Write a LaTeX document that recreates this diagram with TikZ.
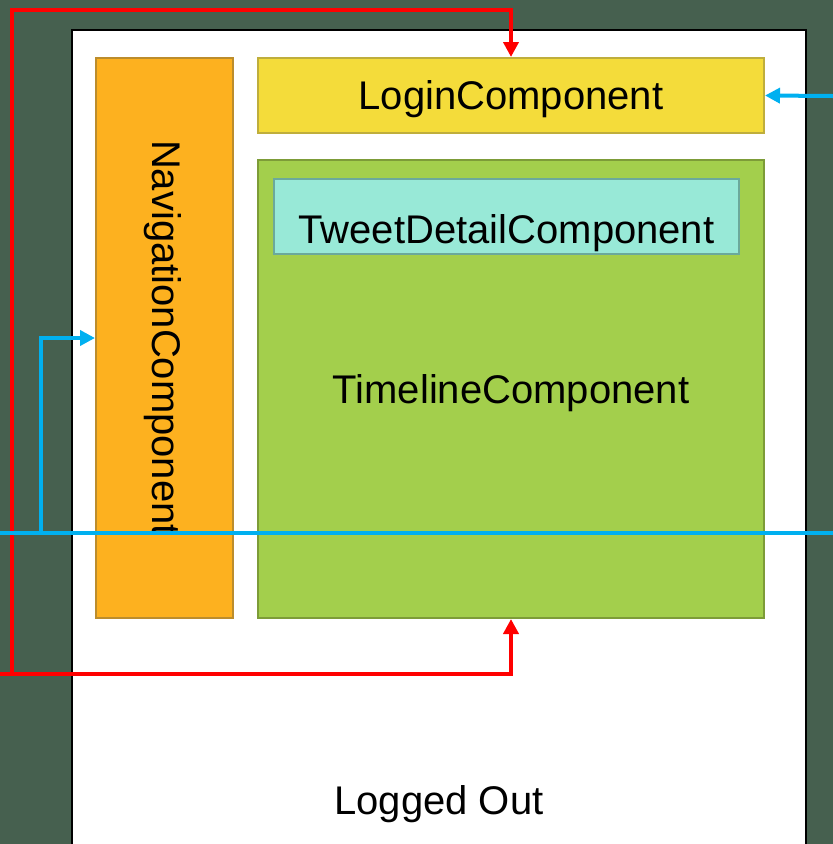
\documentclass[tikz,border=0pt]{standalone}
\usepackage{fontspec}
\setmainfont{Liberation Sans}
\usepackage{tikz}
\usetikzlibrary{arrows.meta,positioning,calc}
\definecolor{ngBack}{HTML}{46604F}
\definecolor{ngNav}{HTML}{FDB11F}
\definecolor{ngNavEdge}{HTML}{BC8D2C}
\definecolor{ngLogin}{HTML}{F4DC3A}
\definecolor{ngLoginEdge}{HTML}{BFAE3C}
\definecolor{ngTime}{HTML}{A3CF4C}
\definecolor{ngTimeEdge}{HTML}{7D9C38}
\definecolor{ngTweet}{HTML}{98E9D7}
\definecolor{ngTweetEdge}{HTML}{6BA99B}
\definecolor{ngBlue}{HTML}{00B0F0}
\definecolor{ngRed}{HTML}{FF0000}
\tikzset{
  ngcomp/.style={draw,line width=2pt,inner sep=0pt,anchor=center},
  ngnav/.style={ngcomp,draw=ngNavEdge,fill=ngNav},
  nglogin/.style={ngcomp,draw=ngLoginEdge,fill=ngLogin},
  ngtime/.style={ngcomp,draw=ngTimeEdge,fill=ngTime},
  ngtweet/.style={ngcomp,draw=ngTweetEdge,fill=ngTweet},
  ngstate/.style={draw=black,line width=2.5pt,fill=white},
  nglbl/.style={font=\fontsize{40}{48}\selectfont,inner sep=0pt,yshift=-4pt},
  ngflow/.style={-{Triangle[length=15pt,width=15pt]},draw=ngBlue,line width=4pt},
  ngred/.style={ngflow,draw=ngRed},
  ngline/.style={draw=ngBlue,line width=4pt},
}
\begin{document}
\begin{tikzpicture}[x=1pt,y=-1pt]
  \useasboundingbox (0,0) rectangle (833,844);
  \clip (0,0) rectangle (833,844);
  \fill[ngBack] (0,0) rectangle (833,844);

  % Logged-out state frame.
  \draw[ngstate] (72,30) rectangle (806,870);
  \node[nglbl] (state) at (439,800) {Logged Out};

  % Components.
  \node[ngnav,minimum width=137pt,minimum height=560pt,
        label={[nglbl,yshift=4pt,xshift=-2pt]center:\rotatebox{-90}{NavigationComponent}}] (nav) at (164.5,338) {};
  \node[nglogin,minimum width=506pt,minimum height=75pt,
        label={[nglbl]center:LoginComponent}] (login) at (511,95.5) {};
  \node[ngtime,minimum width=506pt,minimum height=458pt,
        label={[nglbl]center:TimelineComponent}] (timeline) at (511,389) {};
  \node[ngtweet,minimum width=465pt,minimum height=75pt,
        label={[nglbl,yshift=-13pt]center:TweetDetailComponent}] (tweet) at (506.5,216.5) {};

  % Red route into login and timeline.
  \coordinate (redin) at (0,674);
  \coordinate (redup) at (12,674);
  \draw[ngred] (redin) -| (timeline.south);
  \draw[ngred] (redup) -- ++(0,-664) -| (login.north);

  % Blue routes.
  \coordinate (bluel) at (0,533);
  \coordinate (bluer) at (833,533);
  \coordinate (bluenav) at (41,533);
  \coordinate (bluein) at (833,96);
  \draw[ngline] (bluel) -- (bluer);
  \draw[ngflow] (bluenav) |- (nav.west);
  \draw[ngflow] (bluein) -- (login.east);
\end{tikzpicture}
\end{document}
